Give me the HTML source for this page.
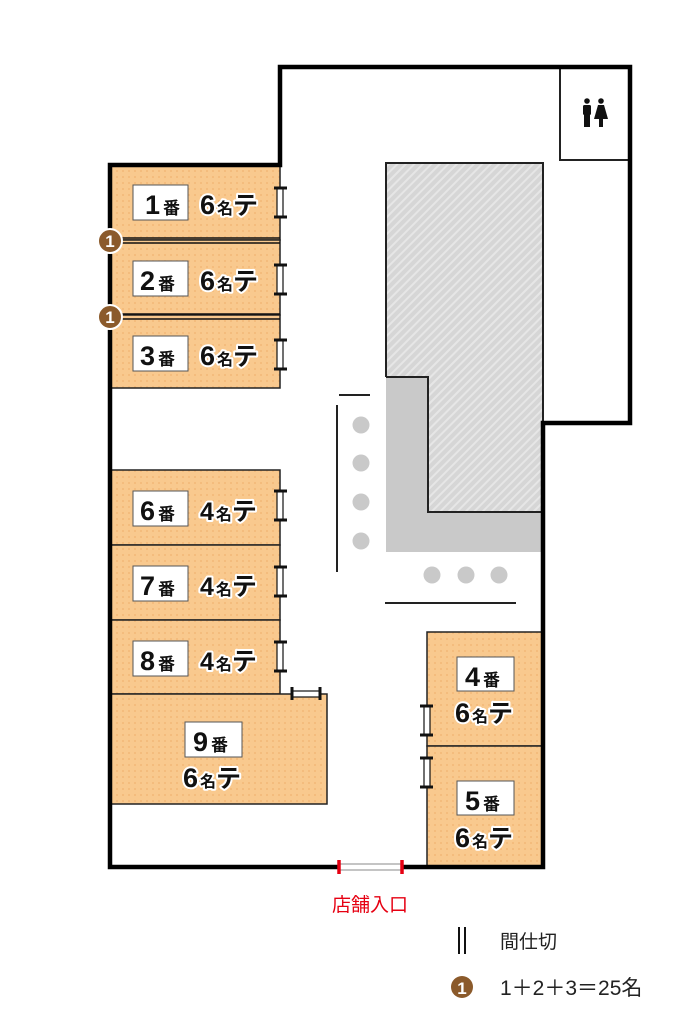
<!DOCTYPE html>
<html><head><meta charset="utf-8"><style>
html,body{margin:0;padding:0;background:#fff;}
svg{display:block;}
text{font-family:"Liberation Sans","Noto Sans CJK JP",sans-serif;}
.n{font-weight:bold;fill:#111;}
.c{font-weight:bold;fill:#111;stroke:#fff;stroke-width:4;paint-order:stroke;stroke-linejoin:round;}
</style></head><body>
<svg width="690" height="1024" viewBox="0 0 690 1024" xmlns="http://www.w3.org/2000/svg">
<defs>
<pattern id="dot" width="6" height="6" patternUnits="userSpaceOnUse">
<rect width="6" height="6" fill="#f9c98e"/><circle cx="3" cy="3" r="1" fill="#f3b877"/>
</pattern>
<pattern id="hatch" width="6" height="6" patternUnits="userSpaceOnUse" patternTransform="rotate(45)">
<rect width="6" height="6" fill="#d6d6d6"/><rect width="2" height="6" fill="#e6e6e6"/>
</pattern>
</defs>
<polygon points="386,377 428,377 428,512 543,512 543,552 386,552" fill="#c9c9c9"/>
<polygon points="386,163 543,163 543,512 428,512 428,377 386,377" fill="url(#hatch)"/>
<polyline points="386,377 386,163 543,163 543,423" fill="none" stroke="#222" stroke-width="2"/>
<polyline points="386,377 428,377 428,512 543,512" fill="none" stroke="#222" stroke-width="2"/>
<line x1="339" y1="395" x2="370" y2="395" stroke="#222" stroke-width="2"/>
<line x1="337" y1="405" x2="337" y2="572" stroke="#222" stroke-width="2"/>
<line x1="385" y1="603" x2="516" y2="603" stroke="#222" stroke-width="2"/>
<g fill="#c9c9c9"><circle cx="361" cy="425" r="8.5"/><circle cx="361" cy="463" r="8.5"/><circle cx="361" cy="502" r="8.5"/><circle cx="361" cy="541" r="8.5"/><circle cx="432" cy="575" r="8.5"/><circle cx="466" cy="575" r="8.5"/><circle cx="499" cy="575" r="8.5"/></g>
<g stroke="#222" stroke-width="1.5" fill="url(#dot)">
<rect x="110" y="165" width="170" height="75"/>
<rect x="110" y="240" width="170" height="75"/>
<rect x="110" y="315" width="170" height="73"/>
<rect x="110" y="470" width="170" height="75"/>
<rect x="110" y="545" width="170" height="75"/>
<rect x="110" y="620" width="170" height="74"/>
<rect x="110" y="694" width="217" height="110"/>
<rect x="427" y="632" width="116" height="114"/>
<rect x="427" y="746" width="116" height="121"/>
</g>
<g stroke="#111" stroke-width="1.5">
<line x1="110" y1="238" x2="280" y2="238"/><line x1="110" y1="243" x2="280" y2="243"/>
<line x1="110" y1="314" x2="280" y2="314"/><line x1="110" y1="319" x2="280" y2="319"/>
</g>
<rect x="560" y="67" width="70" height="93" fill="#fff" stroke="#222" stroke-width="2"/>
<g fill="#111">
<circle cx="587" cy="101" r="2.8"/><rect x="583" y="105" width="8" height="10" rx="1.5"/><rect x="584" y="114" width="6" height="13"/>
<circle cx="601" cy="101" r="2.8"/><polygon points="598,105 604,105 608,119 594,119"/><rect x="599" y="118" width="4" height="9"/>
</g>
<polygon points="110,165 280,165 280,67 630,67 630,423 543,423 543,867 110,867" fill="none" stroke="#000" stroke-width="4.5"/>
<g fill="#fff" stroke="#111" stroke-width="1.2">
<rect x="277" y="188" width="6" height="29"/><rect x="277" y="265" width="6" height="29"/><rect x="277" y="340" width="6" height="29"/>
<rect x="277" y="491" width="6" height="29"/><rect x="277" y="567" width="6" height="29"/><rect x="277" y="642" width="6" height="29"/>
<rect x="292" y="691" width="28" height="6"/>
<rect x="424" y="706" width="6" height="29"/><rect x="424" y="758" width="6" height="29"/>
</g>
<g stroke="#111" stroke-width="3">
<line x1="274" y1="188" x2="287" y2="188"/><line x1="274" y1="217" x2="287" y2="217"/>
<line x1="274" y1="265" x2="287" y2="265"/><line x1="274" y1="294" x2="287" y2="294"/>
<line x1="274" y1="340" x2="287" y2="340"/><line x1="274" y1="369" x2="287" y2="369"/>
<line x1="274" y1="491" x2="287" y2="491"/><line x1="274" y1="520" x2="287" y2="520"/>
<line x1="274" y1="567" x2="287" y2="567"/><line x1="274" y1="596" x2="287" y2="596"/>
<line x1="274" y1="642" x2="287" y2="642"/><line x1="274" y1="671" x2="287" y2="671"/>
<line x1="292" y1="687" x2="292" y2="700"/><line x1="320" y1="687" x2="320" y2="700"/>
<line x1="420" y1="706" x2="433" y2="706"/><line x1="420" y1="735" x2="433" y2="735"/>
<line x1="420" y1="758" x2="433" y2="758"/><line x1="420" y1="787" x2="433" y2="787"/>
</g>
<rect x="340" y="864" width="62" height="6" fill="#fff" stroke="#888" stroke-width="1"/>
<g stroke="#e60012" stroke-width="3.5"><line x1="339" y1="860" x2="339" y2="874"/><line x1="402" y1="860" x2="402" y2="874"/></g>
<text x="370" y="911" text-anchor="middle" font-size="19" fill="#e60012">店舗入口</text>
<g fill="#8b5a2b" stroke="#fff" stroke-width="2"><circle cx="110" cy="241" r="12"/><circle cx="110" cy="317" r="12"/></g>
<g font-size="17" font-weight="bold" fill="#fff" text-anchor="middle"><text x="110" y="247">1</text><text x="110" y="323">1</text></g>
<g fill="#fff" stroke="#555" stroke-width="1">
<rect x="133" y="185" width="55" height="35"/><rect x="133" y="261" width="55" height="35"/><rect x="133" y="336" width="55" height="35"/>
<rect x="133" y="491" width="55" height="35"/><rect x="133" y="566" width="55" height="35"/><rect x="133" y="641" width="55" height="35"/>
<rect x="185" y="722" width="57" height="35"/>
<rect x="457" y="657" width="57" height="34"/><rect x="457" y="781" width="57" height="34"/>
</g>
<g class="n">
<text x="145" y="214" font-size="27">1<tspan font-size="17" dx="3">番</tspan></text>
<text x="140" y="290" font-size="27">2<tspan font-size="17" dx="3">番</tspan></text>
<text x="140" y="365" font-size="27">3<tspan font-size="17" dx="3">番</tspan></text>
<text x="140" y="520" font-size="27">6<tspan font-size="17" dx="3">番</tspan></text>
<text x="140" y="595" font-size="27">7<tspan font-size="17" dx="3">番</tspan></text>
<text x="140" y="670" font-size="27">8<tspan font-size="17" dx="3">番</tspan></text>
<text x="193" y="751" font-size="27">9<tspan font-size="17" dx="3">番</tspan></text>
<text x="465" y="686" font-size="27">4<tspan font-size="17" dx="3">番</tspan></text>
<text x="465" y="810" font-size="27">5<tspan font-size="17" dx="3">番</tspan></text>
</g>
<g class="c">
<text x="200" y="214" font-size="27">6<tspan font-size="16" dx="2">名</tspan><tspan font-size="25">テ</tspan></text>
<text x="200" y="290" font-size="27">6<tspan font-size="16" dx="2">名</tspan><tspan font-size="25">テ</tspan></text>
<text x="200" y="365" font-size="27">6<tspan font-size="16" dx="2">名</tspan><tspan font-size="25">テ</tspan></text>
<text x="200" y="520" font-size="25">4<tspan font-size="16" dx="2">名</tspan><tspan font-size="25">テ</tspan></text>
<text x="200" y="595" font-size="25">4<tspan font-size="16" dx="2">名</tspan><tspan font-size="25">テ</tspan></text>
<text x="200" y="670" font-size="25">4<tspan font-size="16" dx="2">名</tspan><tspan font-size="25">テ</tspan></text>
<text x="183" y="787" font-size="27">6<tspan font-size="16" dx="2">名</tspan><tspan font-size="25">テ</tspan></text>
<text x="455" y="722" font-size="27">6<tspan font-size="16" dx="2">名</tspan><tspan font-size="25">テ</tspan></text>
<text x="455" y="847" font-size="27">6<tspan font-size="16" dx="2">名</tspan><tspan font-size="25">テ</tspan></text>
</g>
<g stroke="#111" stroke-width="2"><line x1="459" y1="927" x2="459" y2="954"/><line x1="465" y1="927" x2="465" y2="954"/></g>
<text x="500" y="948" font-size="19" fill="#222">間仕切</text>
<circle cx="462" cy="987" r="11" fill="#8b5a2b"/>
<text x="462" y="994" font-size="17" font-weight="bold" fill="#fff" text-anchor="middle">1</text>
<text x="500" y="995" font-size="21" fill="#222">1＋2＋3＝25名</text>
</svg>
</body></html>
